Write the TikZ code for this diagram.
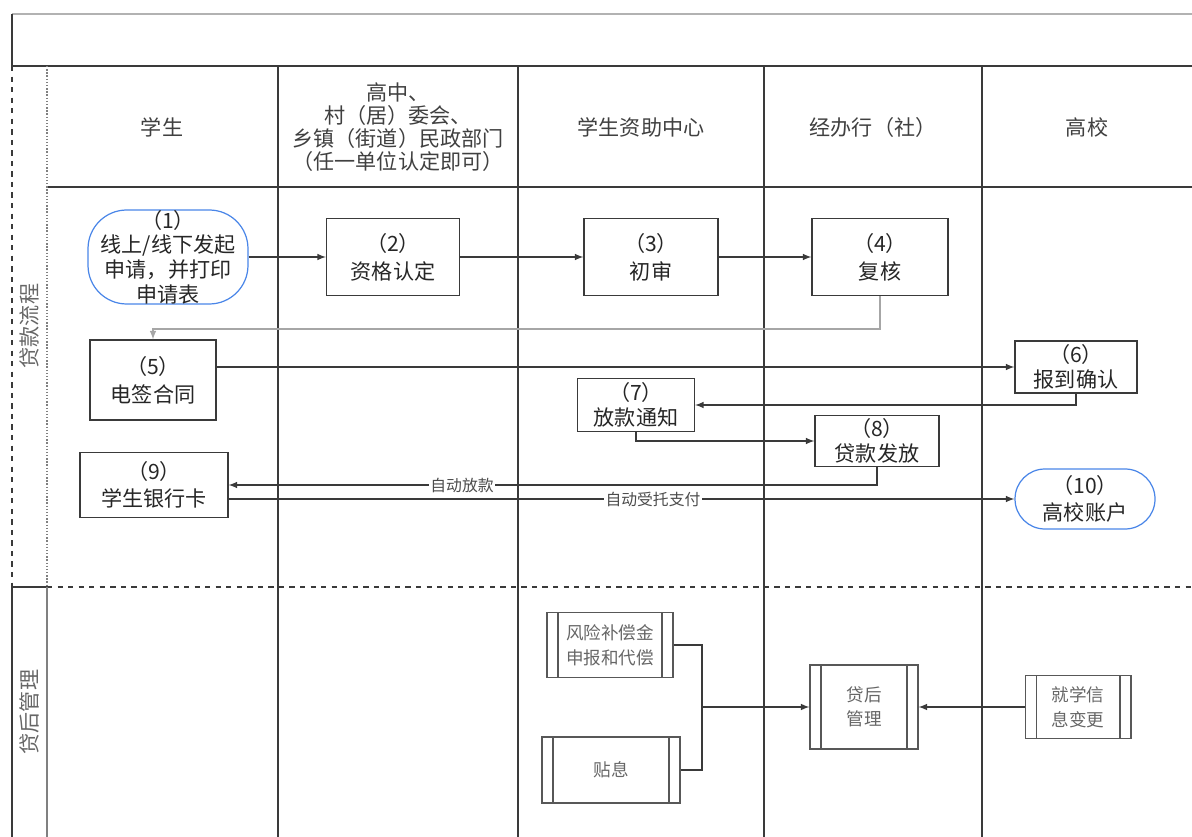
\documentclass[tikz,border=0pt]{standalone}
\usepackage{fontspec}
\setmainfont{Noto Sans CJK SC}
\usetikzlibrary{arrows}
\definecolor{lineblue}{HTML}{4A86E8}
\definecolor{boxline}{HTML}{3A3A3A}

\begin{document}
\begin{tikzpicture}[x=0.02cm,y=-0.02cm,
  box/.style={draw=boxline,line width=0.7pt,align=center,inner sep=0pt,text=black!85,font=\fontsize{12}{16}\selectfont},
  endbox/.style={box,draw=lineblue,rounded corners=#1},
  subbox/.style={draw=boxline!85,line width=0.6pt,align=center,inner sep=0pt,text=black!60,font=\fontsize{10}{14}\selectfont,
    path picture={\draw[boxline!85,line width=0.6pt]
      ([xshift=0.22cm]path picture bounding box.north west) -- ([xshift=0.22cm]path picture bounding box.south west)
      ([xshift=-0.22cm]path picture bounding box.north east) -- ([xshift=-0.22cm]path picture bounding box.south east);}},
  flow/.style={draw=boxline,line width=0.7pt,-latex},
  lbl/.style={fill=white,inner sep=1pt,text=black!70,font=\fontsize{9}{9}\selectfont},
  head/.style={align=center,text=black!75,font=\fontsize{12}{13}\selectfont},
  lane/.style={rotate=90,text=black!60,font=\fontsize{12}{12}\selectfont},
  frame/.style={draw=boxline,line width=0.9pt}]
\useasboundingbox (0,0) rectangle (1192,837);

% pool and lanes
\draw[gray!60,line width=0.8pt] (12,14) -- (1192,14);
\draw[frame] (12,14) -- (12,66) -- (1192,66);
\draw[frame] (47,187) -- (1192,187);
\draw[frame,dashed,line width=0.7pt] (12,66) -- (12,587);
\draw[gray,densely dotted,line width=0.8pt] (47,66) -- (47,587);
\draw[frame,line width=0.7pt] (12,587) -- (47,587);
\draw[frame,dashed,line width=0.6pt] (47,587) -- (1192,587);
\draw[frame,line width=0.8pt] (12,587) -- (12,837);
\draw[gray,line width=0.8pt] (47,587) -- (47,837);
\foreach \x in {278,518,764,982}
  \draw[frame] (\x,66) -- (\x,837);

\node[lane] (lloan) at (29,326) {贷款流程};
\node[lane] (lpost) at (29,712) {贷后管理};

\node[head] (hstu) at (162,127) {学生};
\node[head] (hvil) at (398,127) {高中、\\村（居）委会、\\乡镇（街道）民政部门\\（任一单位认定即可）};
\node[head] (hcen) at (641,127) {学生资助中心};
\node[head] (hbank) at (873,127) {经办行（社）};
\node[head] (huni) at (1087,127) {高校};

% loan flow
\node[endbox=22pt,minimum width=3.2cm,minimum height=1.88cm,font=\fontsize{12}{14}\selectfont] (n1) at (168,257) {（1）\\线上/线下发起\\申请，并打印\\申请表};
\node[box,minimum width=2.66cm,minimum height=1.54cm] (n2) at (393,257) {（2）\\资格认定};
\node[box,minimum width=2.68cm,minimum height=1.54cm] (n3) at (651,257) {（3）\\初审};
\node[box,minimum width=2.72cm,minimum height=1.54cm] (n4) at (880,257) {（4）\\复核};
\node[box,minimum width=2.52cm,minimum height=1.6cm] (n5) at (153,380) {（5）\\电签合同};
\node[box,minimum width=2.44cm,minimum height=1.04cm,font=\fontsize{12}{14}\selectfont] (n6) at (1076,367) {（6）\\报到确认};
\node[box,minimum width=2.34cm,minimum height=1.06cm,font=\fontsize{12}{14}\selectfont] (n7) at (636,405) {（7）\\放款通知};
\node[box,minimum width=2.48cm,minimum height=1.02cm,font=\fontsize{12}{14}\selectfont] (n8) at (877,441) {（8）\\贷款发放};
\node[box,minimum width=2.96cm,minimum height=1.3cm,font=\fontsize{12}{15}\selectfont] (n9) at (154,485) {（9）\\学生银行卡};
\node[endbox=17pt,minimum width=2.8cm,minimum height=1.2cm,font=\fontsize{12}{15}\selectfont] (n10) at (1085,499) {（10）\\高校账户};

\draw[flow] (n1) -- (n2);
\draw[flow] (n2) -- (n3);
\draw[flow] (n3) -- (n4);
\draw[flow,draw=gray!70] (n4.south) -- ++(0,33) -| (n5.north);
\draw[flow] (n5.east |- n6.west) -- (n6.west);
\draw[flow] (n6.south) |- (n7.east);
\draw[flow] (n7.south) |- (n8.west);
\draw[flow] (n8.south) |- node[lbl,pos=0.82] {自动放款} (n9.east);
\draw[flow] (n9.east |- n10.west) -- node[lbl,pos=0.54] {自动受托支付} (n10.west);

% post-loan management
\node[subbox,minimum width=2.52cm,minimum height=1.3cm] (risk) at (610,645) {风险补偿金\\申报和代偿};
\node[subbox,minimum width=2.76cm,minimum height=1.32cm] (subsidy) at (611,770) {贴息};
\node[subbox,minimum width=2.16cm,minimum height=1.68cm] (post) at (864,707) {贷后\\管理};
\node[subbox,minimum width=2.12cm,minimum height=1.26cm] (info) at (1078,707) {就学信\\息变更};
\coordinate (jn) at (702,707);
\draw[flow,-] (risk.east) -| (jn);
\draw[flow,-] (subsidy.east) -| (jn);
\draw[flow] (jn) -- (post.west);
\draw[flow] (info.west) -- (post.east);
\end{tikzpicture}
\end{document}
